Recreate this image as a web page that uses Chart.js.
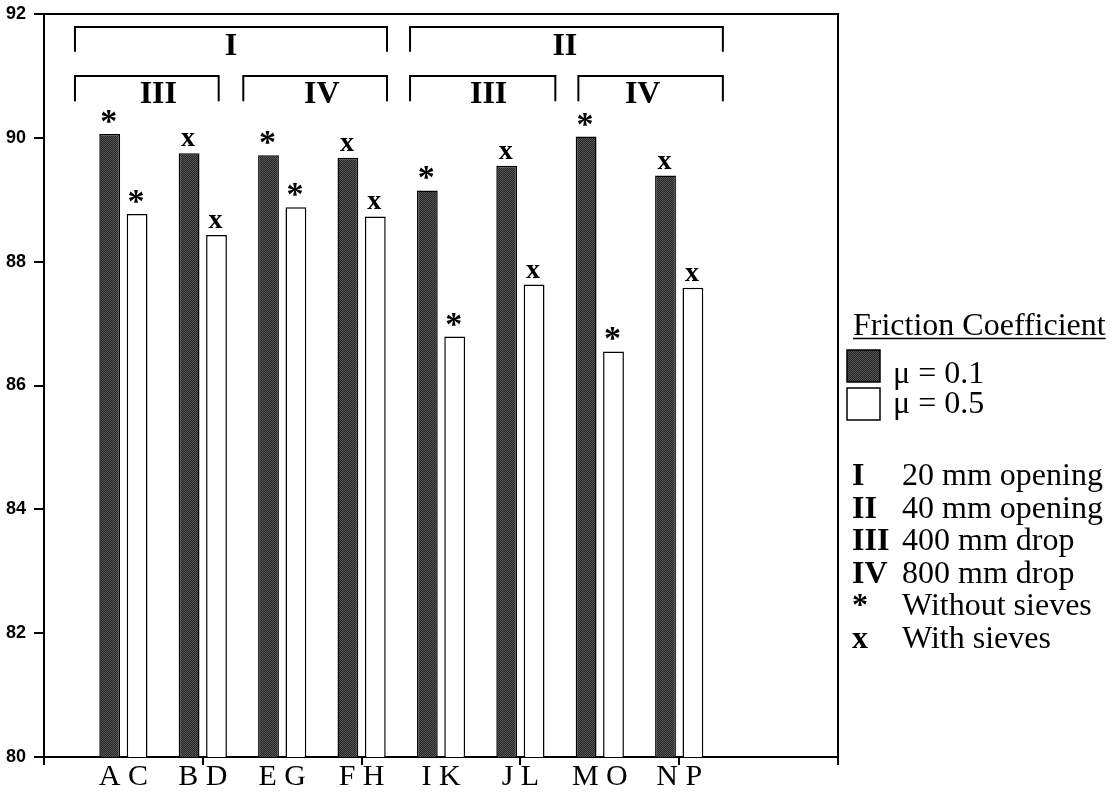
<!DOCTYPE html>
<html>
<head>
<meta charset="utf-8">
<script src="https://cdn.jsdelivr.net/npm/chart.js@4"></script>
<style>
  html, body { margin: 0; background: #fff; }
</style>
</head>
<body>
<canvas id="chart" width="1116" height="792"></canvas>
<script>
// pair labels under the bars, one dark (mu = 0.1) and one white (mu = 0.5) bar per pair
const pairs = ["A C", "B D", "E G", "F H", "I K", "J L", "M O", "N P"];
const mu01 = [90.06, 89.75, 89.72, 89.68, 89.15, 89.55, 90.02, 89.39];
const mu05 = [88.77, 88.43, 88.88, 88.73, 86.79, 87.63, 86.55, 87.58];
const marks = ["*", "x", "*", "x", "*", "x", "*", "x"];
const yTicks = [80, 82, 84, 86, 88, 90, 92];

// group brackets above the bars (x in category units, y in axis units)
const brackets = [
  { text: "I",   from: 0.39, to: 4.32, top: 91.79, leg: 91.39, tx: 2.355, ty: 91.34 },
  { text: "II",  from: 4.61, to: 8.55, top: 91.79, leg: 91.39, tx: 6.56,  ty: 91.34 },
  { text: "III", from: 0.39, to: 2.20, top: 91.00, leg: 90.59, tx: 1.44,  ty: 90.56 },
  { text: "IV",  from: 2.51, to: 4.32, top: 91.00, leg: 90.59, tx: 3.50,  ty: 90.56 },
  { text: "III", from: 4.61, to: 6.44, top: 91.00, leg: 90.59, tx: 5.60,  ty: 90.56 },
  { text: "IV",  from: 6.73, to: 8.55, top: 91.00, leg: 90.59, tx: 7.54,  ty: 90.56 }
];

const keyCodes = ["I", "II", "III", "IV", "*", "x"];
const keyTexts = ["20 mm opening", "40 mm opening", "400 mm drop", "800 mm drop", "Without sieves", "With sieves"];

const SERIF = '"Liberation Serif", "Times New Roman", serif';

// one empty slot before the pairs and two after, like the original axis
const labels = ["", ...pairs, "", ""];
const pad = arr => [null, ...arr, null, null];

// dark stipple fill
function stipple() {
  const c = document.createElement("canvas");
  c.width = 2; c.height = 2;
  const g = c.getContext("2d");
  g.fillStyle = "#262626"; g.fillRect(0, 0, 2, 2);
  g.fillStyle = "#555555"; g.fillRect(0, 0, 1, 1); g.fillRect(1, 1, 1, 1);
  return g.createPattern(c, "repeat");
}
const dark = stipple();

const extras = {
  id: "extras",
  afterDatasetsDraw(chart) {
    const ctx = chart.ctx;
    const a = chart.chartArea;
    const xs = chart.scales.x, ys = chart.scales.y;
    ctx.save();
    ctx.strokeStyle = "#000";
    ctx.fillStyle = "#000";

    // frame top and right
    ctx.lineWidth = 2;
    ctx.beginPath();
    ctx.moveTo(a.left, a.top);
    ctx.lineTo(a.right, a.top);
    ctx.lineTo(a.right, a.bottom);
    ctx.stroke();

    // markers above bars
    ctx.textAlign = "center";
    ctx.textBaseline = "alphabetic";
    [0, 1].forEach(d => {
      chart.getDatasetMeta(d).data.forEach((bar, i) => {
        const m = marks[i - 1];
        if (!m || bar.y == null || isNaN(bar.y)) return;
        if (m === "*") {
          ctx.font = "bold 34px " + SERIF;
          ctx.fillText(m, bar.x - 1, bar.y - 2);
        } else {
          ctx.font = "bold 28px " + SERIF;
          ctx.fillText(m, bar.x - 1, bar.y - 7);
        }
      });
    });

    // brackets
    ctx.lineWidth = 2;
    ctx.font = "bold 32px " + SERIF;
    brackets.forEach(b => {
      const x1 = xs.getPixelForValue(b.from), x2 = xs.getPixelForValue(b.to);
      const yt = ys.getPixelForValue(b.top), yl = ys.getPixelForValue(b.leg);
      ctx.beginPath();
      ctx.moveTo(x1, yl); ctx.lineTo(x1, yt); ctx.lineTo(x2, yt); ctx.lineTo(x2, yl);
      ctx.stroke();
      ctx.fillText(b.text, xs.getPixelForValue(b.tx), ys.getPixelForValue(b.ty));
    });

    // legend
    ctx.textAlign = "left";
    ctx.font = "32px " + SERIF;
    const title = "Friction Coefficient";
    ctx.fillText(title, 853, 335);
    const w = ctx.measureText(title).width;
    ctx.lineWidth = 1.5;
    ctx.beginPath(); ctx.moveTo(853, 338.5); ctx.lineTo(853 + w, 338.5); ctx.stroke();

    ctx.fillStyle = dark;
    ctx.fillRect(847, 350, 33, 32);
    ctx.strokeRect(847, 350, 33, 32);
    ctx.fillStyle = "#fff";
    ctx.fillRect(847, 388, 33, 32);
    ctx.strokeRect(847, 388, 33, 32);
    ctx.fillStyle = "#000";
    ctx.fillText("\u03bc = 0.1", 893, 383);
    ctx.fillText("\u03bc = 0.5", 893, 413);

    keyCodes.forEach((k, i) => {
      const y = 485 + i * 32.6;
      ctx.font = "bold 32px " + SERIF;
      ctx.fillText(k, 852, y);
      ctx.font = "32px " + SERIF;
      ctx.fillText(keyTexts[i], 902, y);
    });
    ctx.restore();
  }
};

new Chart(document.getElementById("chart"), {
  type: "bar",
  data: {
    labels,
    datasets: [
      { label: "\u03bc = 0.1", data: pad(mu01), backgroundColor: dark, borderColor: "#000", borderWidth: 1.5 },
      { label: "\u03bc = 0.5", data: pad(mu05), backgroundColor: "#fff", borderColor: "#000", borderWidth: 1.5 }
    ]
  },
  options: {
    responsive: false,
    animation: false,
    devicePixelRatio: 1,
    layout: { padding: { top: 14, right: 278, bottom: 0, left: 0 } },
    datasets: { bar: { categoryPercentage: 0.69, barPercentage: 0.76 } },
    plugins: { legend: { display: false }, tooltip: { enabled: false } },
    scales: {
      x: {
        offset: false,
        ticks: { autoSkip: false, maxRotation: 0, color: "#000", padding: -6,
                 font: { family: SERIF, size: 30 } },
        grid: { offset: false, drawOnChartArea: false, tickLength: 8, lineWidth: 2,
                color: c => (c.index % 2 === 0 ? "#000" : "rgba(0,0,0,0)") },
        border: { display: true, color: "#000", width: 2 },
        afterFit: s => { s.height = 35; }
      },
      y: {
        min: 80, max: 92,
        afterBuildTicks: s => { s.ticks = yTicks.map(v => ({ value: v })); },
        ticks: { color: "#000", padding: 8,
                 font: { family: '"Liberation Sans Narrow", "Liberation Sans", Arial, sans-serif', size: 18, weight: "bold" } },
        grid: { drawOnChartArea: false, tickLength: 10, lineWidth: 2, color: "#000" },
        border: { display: true, color: "#000", width: 2 },
        afterFit: s => { s.width = 44; s.paddingTop = 0; s.paddingBottom = 0; }
      }
    }
  },
  plugins: [extras]
});
</script>
</body>
</html>
